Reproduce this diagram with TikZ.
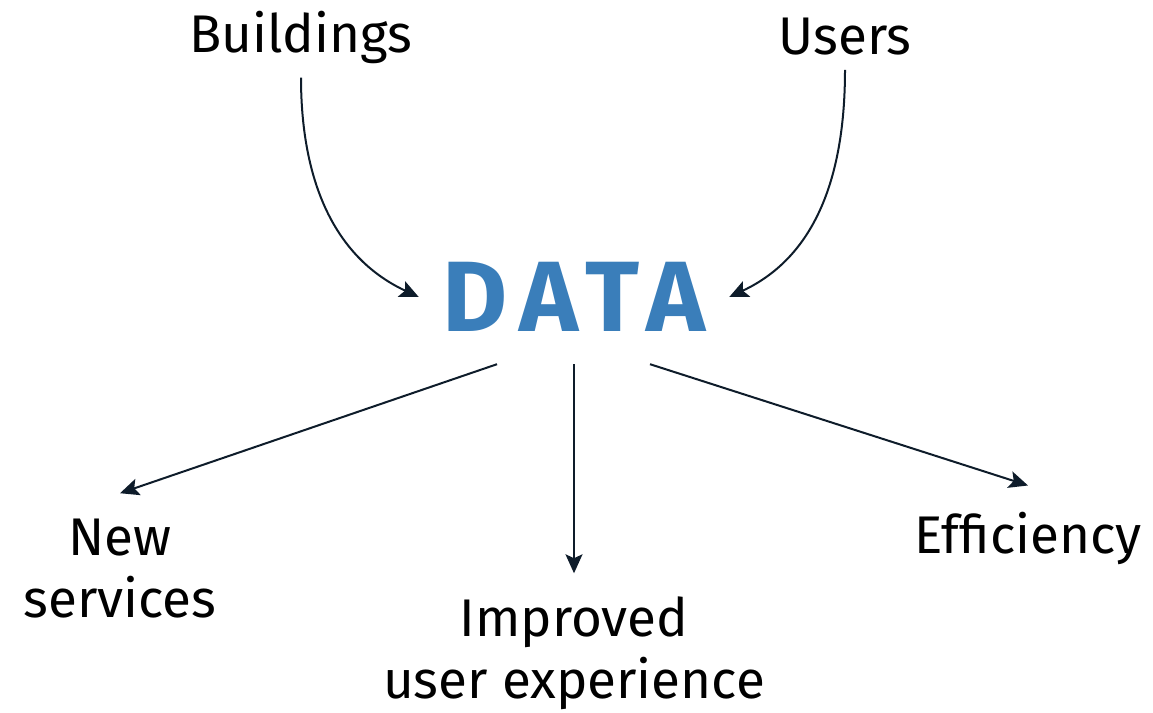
\documentclass[tikz,border=0pt]{standalone}
\usepackage{fontspec}
\setmainfont{Fira Sans}
\newfontfamily\datafont[LetterSpace=12]{Fira Sans}
\usetikzlibrary{arrows.meta}
\definecolor{datablue}{HTML}{3A7EBA}
\definecolor{inkdark}{HTML}{0E1C2A}

\begin{document}
\begin{tikzpicture}[x=1pt,y=-1pt,
    label text/.style={font=\fontsize{53}{62}\selectfont, align=center, text=black, inner sep=0pt},
    flow/.style={inkdark, line width=2pt, -{Stealth[length=19pt,width=17pt,inset=4pt]}}]
      \useasboundingbox (0,0) rectangle (1153,712);

      % sources
      \node[label text] (buildings) at (301,37) {Buildings};
      \node[label text] (users) at (845,37) {Users};

      % centre
      \node[font=\datafont\bfseries\fontsize{100}{100}\selectfont, text=datablue,
            inner xsep=24pt, inner ysep=0pt, minimum height=134pt] (data) at (574,297) {DATA};

      % results
      \node[label text] (newserv) at (120,569) {New\\services};
      \node[label text] (improved) at (574,653) {Improved\\user experience};
      \node[label text] (efficiency) at (1028,538) {Efficiency};

      \draw[flow] ([yshift=-14pt]buildings.south) to[out=-90, in=155] (data.west);
      \draw[flow] ([yshift=-14pt]users.south) to[out=-90, in=25] (data.east);
      \draw[flow] ([xshift=-77pt]data.south) -- ([yshift=26pt]newserv.north);
      \draw[flow] (data.south) -- ([yshift=23pt]improved.north);
      \draw[flow] ([xshift=76pt]data.south) -- ([yshift=26pt]efficiency.north);
    \end{tikzpicture}
\end{document}
